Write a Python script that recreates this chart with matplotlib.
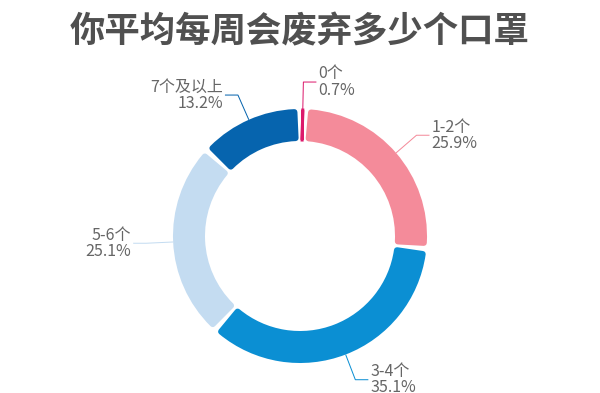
import numpy as np
import matplotlib
matplotlib.use("Agg")
import matplotlib.pyplot as plt
from matplotlib.patches import Wedge

plt.rcParams['font.family'] = ['Noto Sans CJK SC', 'DejaVu Sans']

# data
categories = ["0个", "1-2个", "3-4个", "5-6个", "7个及以上"]
percents = [0.7, 25.9, 35.1, 25.1, 13.2]
colors = ["#dc1a6c", "#f48b9a", "#0b8fd3", "#c4dcf1", "#0664ae"]
label_side = ["right", "right", "right", "left", "left"]

# layout in pixels (y up)
W, H = 600, 393
cx, cy = 300, H - 236
R_out, R_in = 127, 95
pad_px = 5.0      # angular inset per side (px at mid radius)
round_px = 6.0    # edge width used to round the corners
elbow_r = 154
hlen = 13

px2pt = 72 / 100

fig = plt.figure(figsize=(W / 100, H / 100), dpi=100)
ax = fig.add_axes([0, 0, 1, 1])
ax.set_xlim(0, W)
ax.set_ylim(0, H)
ax.axis("off")

total = sum(percents)
start = 90.0
r_mid = (R_out + R_in) / 2
for cat, p, col, side in zip(categories, percents, colors, label_side):
    span = p / total * 360
    t2 = start
    t1 = start - span
    mid = (t1 + t2) / 2
    d = np.degrees((pad_px) / r_mid)
    if span - 2 * d > 0.5:
        w = Wedge((cx, cy), R_out - round_px / 2, t1 + d, t2 - d,
                  width=R_out - R_in - round_px, fc=col, ec=col,
                  lw=round_px * px2pt, joinstyle="round")
    else:
        w = Wedge((cx, cy), R_out - 1, mid - 0.01, mid + 0.01,
                  width=R_out - R_in - 2, fc=col, ec=col,
                  lw=3 * px2pt, joinstyle="miter")
    ax.add_patch(w)

    # leader line
    a = np.radians(mid)
    x0, y0 = cx + R_out * np.cos(a), cy + R_out * np.sin(a)
    x1, y1 = cx + elbow_r * np.cos(a), cy + elbow_r * np.sin(a)
    sgn = 1 if side == "right" else -1
    x2 = x1 + sgn * hlen
    ax.plot([x0, x1, x2], [y0, y1, y1], color=col, lw=1 * px2pt,
            solid_capstyle="butt")
    ax.text(x2 + sgn * 2, y1, f"{cat}\n{p:.1f}%",
            ha="left" if side == "right" else "right", va="center",
            fontsize=11.5, color="#666666", linespacing=0.95,
            multialignment="left" if side == "right" else "right")
    start = t1

ax.text(W / 2, H - 32, "你平均每周会废弃多少个口罩", ha="center", va="center",
        fontsize=25.5, fontweight="bold", color="#505050")

fig.savefig("out.png", dpi=100)
